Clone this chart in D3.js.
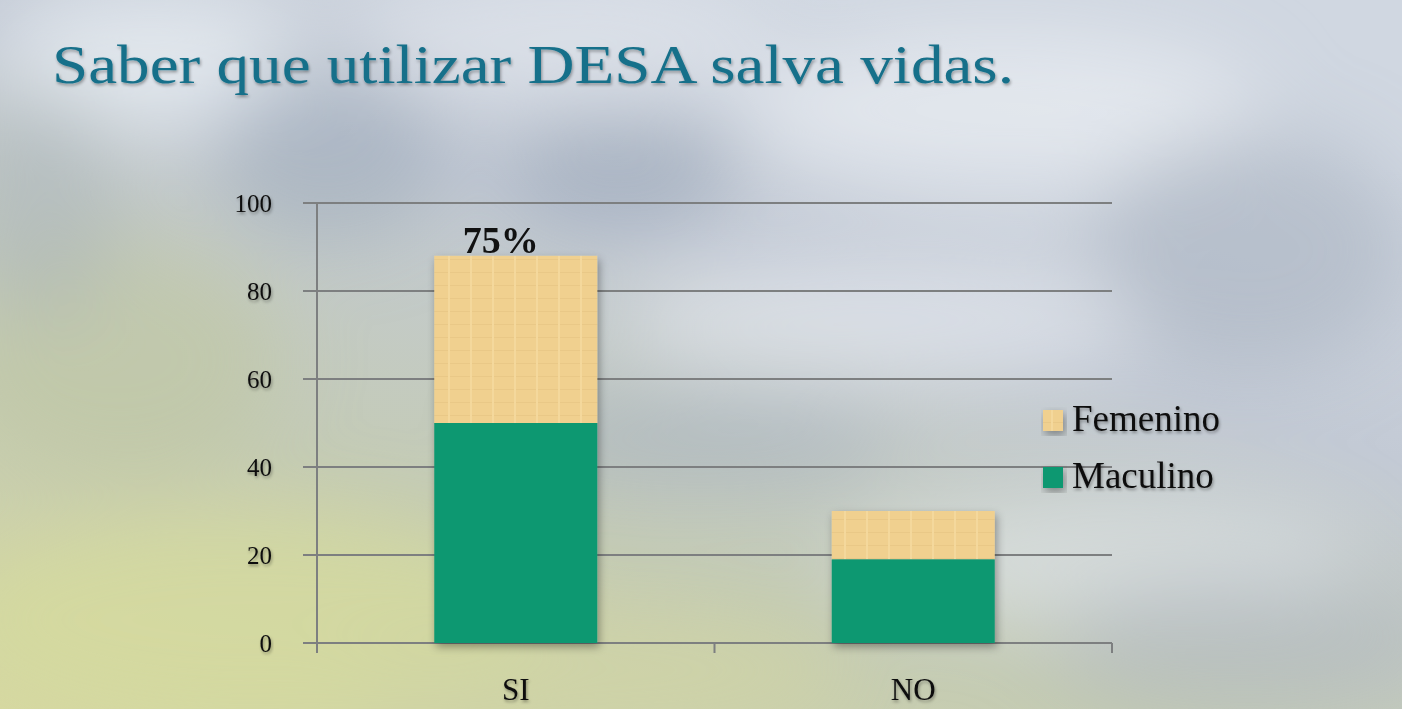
<!DOCTYPE html>
<html>
<head>
<meta charset="utf-8">
<script src="https://cdn.jsdelivr.net/npm/d3@7"></script>
<style>
  html, body { margin: 0; padding: 0; }
  body { width: 1402px; height: 709px; overflow: hidden; }
</style>
</head>
<body>
<div id="chart"></div>
<script>
// data
var categories = ["SI", "NO"];
var maculino = [50, 19];
var femenino = [38, 11];
var yTicks = [0, 20, 40, 60, 80, 100];
var seriesNames = ["Femenino", "Maculino"];
var topLabels = ["75%", ""];

var width = 1402;
var height = 709;
var plotLeft = 317, plotRight = 1112, plotTop = 203, plotBottom = 643;

var svg = d3.select("#chart").append("svg")
  .attr("width", width)
  .attr("height", height);

var defs = svg.append("defs");

// blurry cloud background
var bg = defs.append("linearGradient").attr("id", "bgBase")
  .attr("x1", 0).attr("y1", 1).attr("x2", 0.6).attr("y2", 0);
bg.append("stop").attr("offset", "0").attr("stop-color", "#d6d8a2");
bg.append("stop").attr("offset", "0.35").attr("stop-color", "#c4cbb4");
bg.append("stop").attr("offset", "0.7").attr("stop-color", "#c3cad5");
bg.append("stop").attr("offset", "1").attr("stop-color", "#d0d7e1");

svg.append("rect").attr("width", width).attr("height", height).attr("fill", "url(#bgBase)");

var blur = defs.append("filter").attr("id", "cloudBlur")
  .attr("x", "-50%").attr("y", "-50%").attr("width", "200%").attr("height", "200%");
blur.append("feGaussianBlur").attr("stdDeviation", 40);

var clouds = [
  {x: 150, y: 60, rx: 160, ry: 70, c: "#e8edf3", o: 0.8},
  {x: 560, y: 40, rx: 220, ry: 60, c: "#e2e7ee", o: 0.7},
  {x: 330, y: 150, rx: 120, ry: 90, c: "#9aa7b8", o: 0.55},
  {x: 620, y: 170, rx: 120, ry: 60, c: "#8f9db0", o: 0.5},
  {x: 1000, y: 110, rx: 260, ry: 80, c: "#e8ecf2", o: 0.75},
  {x: 1250, y: 250, rx: 160, ry: 120, c: "#aab4c2", o: 0.6},
  {x: 880, y: 320, rx: 260, ry: 60, c: "#e9edf2", o: 0.6},
  {x: 700, y: 440, rx: 200, ry: 50, c: "#a5b0bf", o: 0.55},
  {x: 1100, y: 560, rx: 260, ry: 60, c: "#e3e7ec", o: 0.6},
  {x: 1250, y: 640, rx: 200, ry: 70, c: "#aeb6bf", o: 0.55},
  {x: 120, y: 360, rx: 160, ry: 120, c: "#bfc6a3", o: 0.6},
  {x: 250, y: 620, rx: 300, ry: 110, c: "#d6db9d", o: 0.7},
  {x: 600, y: 670, rx: 250, ry: 60, c: "#d1d6a4", o: 0.6},
  {x: 40, y: 200, rx: 80, ry: 120, c: "#aab3b8", o: 0.5}
];
svg.append("g").attr("filter", "url(#cloudBlur)")
  .selectAll("ellipse").data(clouds).enter().append("ellipse")
  .attr("cx", function (d) { return d.x; })
  .attr("cy", function (d) { return d.y; })
  .attr("rx", function (d) { return d.rx; })
  .attr("ry", function (d) { return d.ry; })
  .attr("fill", function (d) { return d.c; })
  .attr("opacity", function (d) { return d.o; });

// title
var txtShadow = defs.append("filter").attr("id", "txtShadow");
txtShadow.append("feDropShadow").attr("dx", 1).attr("dy", 2).attr("stdDeviation", 1.5)
  .attr("flood-color", "#000").attr("flood-opacity", 0.35);

svg.append("text")
  .attr("x", 52).attr("y", 83)
  .attr("font-family", "'Liberation Serif', serif")
  .attr("font-size", 54)
  .attr("textLength", 962)
  .attr("lengthAdjust", "spacingAndGlyphs")
  .attr("fill", "#17708a")
  .attr("filter", "url(#txtShadow)")
  .text("Saber que utilizar DESA salva vidas.");

var x = d3.scaleBand().domain(categories).range([plotLeft, plotRight])
  .paddingInner(0.59).paddingOuter(0.295);
var y = d3.scaleLinear().domain([0, 100]).range([plotBottom, plotTop]);

// grid lines
svg.append("g")
  .selectAll("line").data(yTicks).enter().append("line")
  .attr("x1", plotLeft - 14).attr("x2", plotRight)
  .attr("y1", function (d) { return y(d); })
  .attr("y2", function (d) { return y(d); })
  .attr("stroke", "#7d7f80").attr("stroke-width", 2);

// y axis
var yAxis = d3.axisLeft(y).tickValues(yTicks).tickSize(0).tickPadding(45);
var yg = svg.append("g").attr("transform", "translate(" + plotLeft + ",0)").call(yAxis);
yg.select(".domain").remove();
yg.selectAll("text")
  .attr("font-family", "'Liberation Serif', serif")
  .attr("font-size", 25)
  .attr("fill", "#111")
  .attr("filter", "url(#txtShadow)");
svg.append("line")
  .attr("x1", plotLeft).attr("x2", plotLeft).attr("y1", plotTop).attr("y2", plotBottom + 10)
  .attr("stroke", "#7d7f80").attr("stroke-width", 2);

// x axis
var xAxis = d3.axisBottom(x).tickSize(0).tickPadding(35);
var xg = svg.append("g").attr("transform", "translate(0," + plotBottom + ")").call(xAxis);
xg.select(".domain").remove();
xg.selectAll("text")
  .attr("font-family", "'Liberation Serif', serif")
  .attr("font-size", 31)
  .attr("fill", "#111")
  .attr("filter", "url(#txtShadow)");
var step = x.step();
svg.append("g").selectAll("line").data([0, 1, 2]).enter().append("line")
  .attr("x1", function (d) { return plotLeft + d * step; })
  .attr("x2", function (d) { return plotLeft + d * step; })
  .attr("y1", plotBottom).attr("y2", plotBottom + 10)
  .attr("stroke", "#7d7f80").attr("stroke-width", 2);

// bars
var barShadow = defs.append("filter").attr("id", "barShadow")
  .attr("x", "-10%").attr("y", "-10%").attr("width", "130%").attr("height", "130%");
barShadow.append("feDropShadow").attr("dx", 2).attr("dy", 4).attr("stdDeviation", 4)
  .attr("flood-color", "#000").attr("flood-opacity", 0.35);

var pat = defs.append("pattern").attr("id", "paper")
  .attr("width", 22).attr("height", 13).attr("patternUnits", "userSpaceOnUse");
pat.append("rect").attr("width", 22).attr("height", 13).attr("fill", "#f0d08f");
pat.append("line").attr("x1", 0).attr("x2", 22).attr("y1", 12.5).attr("y2", 12.5)
  .attr("stroke", "#e9c887").attr("stroke-width", 1);
pat.append("line").attr("x1", 9).attr("x2", 9).attr("y1", 0).attr("y2", 13)
  .attr("stroke", "#f4d89c").attr("stroke-width", 2);

var rows = categories.map(function (c, i) {
  return {cat: c, m: maculino[i], f: femenino[i], label: topLabels[i]};
});

var bars = svg.append("g").attr("filter", "url(#barShadow)");
bars.selectAll(".fem").data(rows).enter().append("rect")
  .attr("class", "fem")
  .attr("x", function (d) { return x(d.cat); })
  .attr("width", x.bandwidth())
  .attr("y", function (d) { return y(d.m + d.f); })
  .attr("height", function (d) { return y(d.m) - y(d.m + d.f); })
  .attr("fill", "url(#paper)");
bars.selectAll(".mac").data(rows).enter().append("rect")
  .attr("class", "mac")
  .attr("x", function (d) { return x(d.cat); })
  .attr("width", x.bandwidth())
  .attr("y", function (d) { return y(d.m); })
  .attr("height", function (d) { return y(0) - y(d.m); })
  .attr("fill", "#0e9871");

// total label
svg.selectAll(".lbl").data(rows).enter().append("text")
  .attr("class", "lbl")
  .attr("x", function (d) { return x(d.cat) + x.bandwidth() / 2 - 15; })
  .attr("y", function (d) { return y(d.m + d.f) - 3; })
  .attr("text-anchor", "middle")
  .attr("font-family", "'Liberation Serif', serif")
  .attr("font-weight", "bold")
  .attr("font-size", 38)
  .attr("fill", "#111")
  .text(function (d) { return d.label; });

// legend
var legend = svg.append("g").attr("transform", "translate(1043,410)");
var lg = legend.selectAll("g").data(seriesNames).enter().append("g")
  .attr("transform", function (d, i) { return "translate(0," + (i * 57) + ")"; });
lg.append("rect").attr("width", 20).attr("height", 21)
  .attr("fill", function (d, i) { return i === 0 ? "url(#paper)" : "#0e9871"; })
  .attr("filter", "url(#barShadow)");
lg.append("text").attr("x", 29).attr("y", 21)
  .attr("font-family", "'Liberation Serif', serif")
  .attr("font-size", 37)
  .attr("fill", "#111")
  .attr("filter", "url(#txtShadow)")
  .text(function (d) { return d; });
</script>
</body>
</html>
